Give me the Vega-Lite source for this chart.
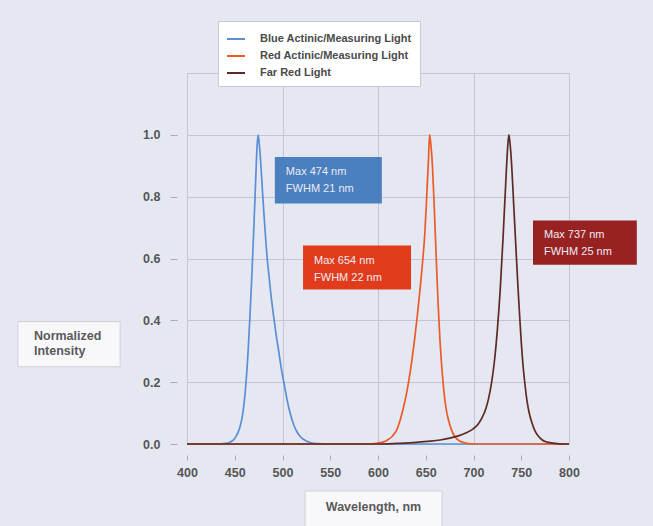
{
  "$schema": "https://vega.github.io/schema/vega-lite/v6.json",
  "width": 382,
  "height": 371,
  "autosize": "none",
  "padding": {"left": 187, "top": 73, "right": 84, "bottom": 82},
  "background": "#e6e8f1",
  "config": {
    "font": "Liberation Sans",
    "view": {"stroke": "#c4c5d2", "strokeWidth": 1}
  },
  "datasets": {
    "spectra": [
      {"series": "Blue Actinic/Measuring Light", "wl": 400, "value": 0},
      {"series": "Blue Actinic/Measuring Light", "wl": 430, "value": 0},
      {"series": "Blue Actinic/Measuring Light", "wl": 440, "value": 0.002},
      {"series": "Blue Actinic/Measuring Light", "wl": 445, "value": 0.006},
      {"series": "Blue Actinic/Measuring Light", "wl": 450, "value": 0.018},
      {"series": "Blue Actinic/Measuring Light", "wl": 455, "value": 0.05},
      {"series": "Blue Actinic/Measuring Light", "wl": 458, "value": 0.09},
      {"series": "Blue Actinic/Measuring Light", "wl": 461, "value": 0.17},
      {"series": "Blue Actinic/Measuring Light", "wl": 464, "value": 0.3},
      {"series": "Blue Actinic/Measuring Light", "wl": 466, "value": 0.42},
      {"series": "Blue Actinic/Measuring Light", "wl": 468, "value": 0.55},
      {"series": "Blue Actinic/Measuring Light", "wl": 470, "value": 0.7},
      {"series": "Blue Actinic/Measuring Light", "wl": 472, "value": 0.86},
      {"series": "Blue Actinic/Measuring Light", "wl": 473.5, "value": 0.97},
      {"series": "Blue Actinic/Measuring Light", "wl": 474.5, "value": 1.0},
      {"series": "Blue Actinic/Measuring Light", "wl": 476, "value": 0.96},
      {"series": "Blue Actinic/Measuring Light", "wl": 478, "value": 0.87},
      {"series": "Blue Actinic/Measuring Light", "wl": 480, "value": 0.77},
      {"series": "Blue Actinic/Measuring Light", "wl": 482, "value": 0.68},
      {"series": "Blue Actinic/Measuring Light", "wl": 484, "value": 0.6},
      {"series": "Blue Actinic/Measuring Light", "wl": 486, "value": 0.54},
      {"series": "Blue Actinic/Measuring Light", "wl": 488, "value": 0.48},
      {"series": "Blue Actinic/Measuring Light", "wl": 490, "value": 0.43},
      {"series": "Blue Actinic/Measuring Light", "wl": 493, "value": 0.36},
      {"series": "Blue Actinic/Measuring Light", "wl": 496, "value": 0.3},
      {"series": "Blue Actinic/Measuring Light", "wl": 499, "value": 0.24},
      {"series": "Blue Actinic/Measuring Light", "wl": 502, "value": 0.19},
      {"series": "Blue Actinic/Measuring Light", "wl": 505, "value": 0.14},
      {"series": "Blue Actinic/Measuring Light", "wl": 508, "value": 0.1},
      {"series": "Blue Actinic/Measuring Light", "wl": 512, "value": 0.06},
      {"series": "Blue Actinic/Measuring Light", "wl": 516, "value": 0.035},
      {"series": "Blue Actinic/Measuring Light", "wl": 520, "value": 0.02},
      {"series": "Blue Actinic/Measuring Light", "wl": 525, "value": 0.01},
      {"series": "Blue Actinic/Measuring Light", "wl": 530, "value": 0.004},
      {"series": "Blue Actinic/Measuring Light", "wl": 538, "value": 0.001},
      {"series": "Blue Actinic/Measuring Light", "wl": 545, "value": 0},
      {"series": "Blue Actinic/Measuring Light", "wl": 800, "value": 0},
      {"series": "Red Actinic/Measuring Light", "wl": 400, "value": 0},
      {"series": "Red Actinic/Measuring Light", "wl": 590, "value": 0},
      {"series": "Red Actinic/Measuring Light", "wl": 600, "value": 0.003},
      {"series": "Red Actinic/Measuring Light", "wl": 605, "value": 0.006},
      {"series": "Red Actinic/Measuring Light", "wl": 610, "value": 0.013},
      {"series": "Red Actinic/Measuring Light", "wl": 615, "value": 0.025},
      {"series": "Red Actinic/Measuring Light", "wl": 620, "value": 0.048},
      {"series": "Red Actinic/Measuring Light", "wl": 623, "value": 0.075},
      {"series": "Red Actinic/Measuring Light", "wl": 626, "value": 0.11},
      {"series": "Red Actinic/Measuring Light", "wl": 629, "value": 0.15},
      {"series": "Red Actinic/Measuring Light", "wl": 632, "value": 0.2},
      {"series": "Red Actinic/Measuring Light", "wl": 635, "value": 0.26},
      {"series": "Red Actinic/Measuring Light", "wl": 638, "value": 0.33},
      {"series": "Red Actinic/Measuring Light", "wl": 641, "value": 0.41},
      {"series": "Red Actinic/Measuring Light", "wl": 644, "value": 0.5},
      {"series": "Red Actinic/Measuring Light", "wl": 647, "value": 0.6},
      {"series": "Red Actinic/Measuring Light", "wl": 649, "value": 0.68},
      {"series": "Red Actinic/Measuring Light", "wl": 651, "value": 0.8},
      {"series": "Red Actinic/Measuring Light", "wl": 653, "value": 0.93},
      {"series": "Red Actinic/Measuring Light", "wl": 654, "value": 1.0},
      {"series": "Red Actinic/Measuring Light", "wl": 655, "value": 0.98},
      {"series": "Red Actinic/Measuring Light", "wl": 657, "value": 0.9},
      {"series": "Red Actinic/Measuring Light", "wl": 659, "value": 0.76},
      {"series": "Red Actinic/Measuring Light", "wl": 661, "value": 0.6},
      {"series": "Red Actinic/Measuring Light", "wl": 663, "value": 0.45},
      {"series": "Red Actinic/Measuring Light", "wl": 665, "value": 0.33},
      {"series": "Red Actinic/Measuring Light", "wl": 667, "value": 0.24},
      {"series": "Red Actinic/Measuring Light", "wl": 669, "value": 0.17},
      {"series": "Red Actinic/Measuring Light", "wl": 671, "value": 0.12},
      {"series": "Red Actinic/Measuring Light", "wl": 674, "value": 0.075},
      {"series": "Red Actinic/Measuring Light", "wl": 677, "value": 0.045},
      {"series": "Red Actinic/Measuring Light", "wl": 681, "value": 0.022},
      {"series": "Red Actinic/Measuring Light", "wl": 686, "value": 0.009},
      {"series": "Red Actinic/Measuring Light", "wl": 692, "value": 0.003},
      {"series": "Red Actinic/Measuring Light", "wl": 700, "value": 0},
      {"series": "Red Actinic/Measuring Light", "wl": 800, "value": 0},
      {"series": "Far Red Light", "wl": 400, "value": 0},
      {"series": "Far Red Light", "wl": 600, "value": 0},
      {"series": "Far Red Light", "wl": 620, "value": 0.002},
      {"series": "Far Red Light", "wl": 640, "value": 0.005},
      {"series": "Far Red Light", "wl": 655, "value": 0.009},
      {"series": "Far Red Light", "wl": 665, "value": 0.013},
      {"series": "Far Red Light", "wl": 675, "value": 0.019},
      {"series": "Far Red Light", "wl": 685, "value": 0.027},
      {"series": "Far Red Light", "wl": 693, "value": 0.037},
      {"series": "Far Red Light", "wl": 700, "value": 0.05},
      {"series": "Far Red Light", "wl": 705, "value": 0.065},
      {"series": "Far Red Light", "wl": 709, "value": 0.085},
      {"series": "Far Red Light", "wl": 713, "value": 0.115},
      {"series": "Far Red Light", "wl": 716, "value": 0.15},
      {"series": "Far Red Light", "wl": 719, "value": 0.2},
      {"series": "Far Red Light", "wl": 722, "value": 0.27},
      {"series": "Far Red Light", "wl": 725, "value": 0.37},
      {"series": "Far Red Light", "wl": 728, "value": 0.5},
      {"series": "Far Red Light", "wl": 731, "value": 0.67},
      {"series": "Far Red Light", "wl": 734, "value": 0.86},
      {"series": "Far Red Light", "wl": 736, "value": 0.97},
      {"series": "Far Red Light", "wl": 737, "value": 1.0},
      {"series": "Far Red Light", "wl": 738, "value": 0.98},
      {"series": "Far Red Light", "wl": 740, "value": 0.9},
      {"series": "Far Red Light", "wl": 742, "value": 0.78},
      {"series": "Far Red Light", "wl": 744, "value": 0.66},
      {"series": "Far Red Light", "wl": 746, "value": 0.54},
      {"series": "Far Red Light", "wl": 748, "value": 0.43},
      {"series": "Far Red Light", "wl": 750, "value": 0.33},
      {"series": "Far Red Light", "wl": 752, "value": 0.25},
      {"series": "Far Red Light", "wl": 754, "value": 0.19},
      {"series": "Far Red Light", "wl": 756, "value": 0.14},
      {"series": "Far Red Light", "wl": 758, "value": 0.105},
      {"series": "Far Red Light", "wl": 761, "value": 0.07},
      {"series": "Far Red Light", "wl": 764, "value": 0.045},
      {"series": "Far Red Light", "wl": 768, "value": 0.025},
      {"series": "Far Red Light", "wl": 772, "value": 0.013},
      {"series": "Far Red Light", "wl": 777, "value": 0.006},
      {"series": "Far Red Light", "wl": 785, "value": 0.002},
      {"series": "Far Red Light", "wl": 795, "value": 0},
      {"series": "Far Red Light", "wl": 800, "value": 0}
    ],
    "notes": [
      {"light": "blue", "peak": 474, "fwhm": 21, "left": 492, "right": 604, "top": 0.928, "bottom": 0.778},
      {"light": "red", "peak": 654, "fwhm": 22, "left": 521.5, "right": 634.6, "top": 0.642, "bottom": 0.5},
      {"light": "far red", "peak": 737, "fwhm": 25, "left": 762.3, "right": 871, "top": 0.723, "bottom": 0.58}
    ]
  },
  "layer": [
    {
      "data": {"name": "spectra"},
      "mark": {"type": "line", "strokeWidth": 1.7, "interpolate": "monotone"},
      "encoding": {
        "x": {
          "field": "wl",
          "type": "quantitative",
          "title": null,
          "scale": {"domain": [400, 800], "nice": false},
          "axis": {
            "values": [400, 450, 500, 550, 600, 650, 700, 750, 800],
            "domain": false,
            "offset": 11,
            "tickSize": 5,
            "tickColor": "#a9aab4",
            "labelPadding": 6,
            "labelFlush": false,
            "labelFontSize": 12.5,
            "labelFontWeight": "bold",
            "labelColor": "#555555",
            "gridColor": "#c4c5d2",
            "gridOpacity": {"condition": {"test": "datum.value % 100 !== 0", "value": 0}, "value": 1}
          }
        },
        "y": {
          "field": "value",
          "type": "quantitative",
          "title": null,
          "scale": {"domain": [0, 1.2], "nice": false},
          "axis": {
            "values": [0, 0.2, 0.4, 0.6, 0.8, 1.0],
            "format": ".1f",
            "domain": false,
            "offset": 10,
            "tickSize": 7,
            "tickColor": "#a9aab4",
            "labelPadding": 10,
            "labelFlush": false,
            "labelFontSize": 12.5,
            "labelFontWeight": "bold",
            "labelColor": "#555555",
            "gridColor": "#c4c5d2"
          }
        },
        "color": {
          "field": "series",
          "type": "nominal",
          "title": null,
          "scale": {
            "domain": ["Blue Actinic/Measuring Light", "Red Actinic/Measuring Light", "Far Red Light"],
            "range": ["#5b8ed6", "#ec5a2c", "#5e2a24"]
          },
          "legend": {
            "orient": "none",
            "legendX": 31,
            "legendY": -52,
            "fillColor": "#ffffff",
            "strokeColor": "#c9c9cf",
            "padding": 8,
            "symbolType": "stroke",
            "symbolSize": 324,
            "symbolStrokeWidth": 2,
            "labelFont": "Liberation Sans",
            "labelFontSize": 11,
            "labelFontWeight": "bold",
            "labelColor": "#4a4a4a",
            "labelOffset": 14,
            "rowPadding": 2,
            "labelLimit": 400
          }
        }
      }
    },
    {
      "data": {"name": "notes"},
      "mark": {"type": "rect"},
      "encoding": {
        "x": {"field": "left", "type": "quantitative", "title": null},
        "x2": {"field": "right"},
        "y": {"field": "top", "type": "quantitative", "title": null},
        "y2": {"field": "bottom"},
        "fill": {
          "field": "light",
          "type": "nominal",
          "legend": null,
          "scale": {
            "domain": ["blue", "red", "far red"],
            "range": ["#4a7fc0", "#e23b1c", "#982222"]
          }
        }
      }
    },
    {
      "data": {"name": "notes"},
      "transform": [
        {"calculate": "'Max ' + datum.peak + ' nm|FWHM ' + datum.fwhm + ' nm'", "as": "caption"}
      ],
      "mark": {
        "type": "text",
        "align": "left",
        "baseline": "top",
        "dx": 11,
        "dy": 9,
        "lineBreak": "|",
        "lineHeight": 17,
        "fontSize": 11,
        "color": "#ebebf2"
      },
      "encoding": {
        "x": {"field": "left", "type": "quantitative", "title": null},
        "y": {"field": "top", "type": "quantitative", "title": null},
        "text": {"field": "caption"}
      }
    },
    {
      "data": {"values": [{"caption": "Normalized|Intensity", "left": 223, "right": 330, "top": 0.396, "bottom": 0.25}]},
      "layer": [
        {
          "mark": {"type": "rect", "fill": "#f8f8fa", "stroke": "#cfd0d8"},
          "encoding": {
            "x": {"field": "left", "type": "quantitative", "title": null},
            "x2": {"field": "right"},
            "y": {"field": "top", "type": "quantitative", "title": null},
            "y2": {"field": "bottom"}
          }
        },
        {
          "mark": {
            "type": "text",
            "align": "left",
            "baseline": "top",
            "dx": 16,
            "dy": 8,
            "lineBreak": "|",
            "lineHeight": 15,
            "fontSize": 12.5,
            "fontWeight": "bold",
            "color": "#5a5a5a"
          },
          "encoding": {
            "x": {"field": "left", "type": "quantitative", "title": null},
            "y": {"field": "top", "type": "quantitative", "title": null},
            "text": {"field": "caption"}
          }
        }
      ]
    },
    {
      "data": {"values": [{"caption": "Wavelength, nm", "left": 523.6, "right": 667, "mid": 595.3, "top": -0.152, "bottom": -0.27, "centre": -0.204}]},
      "layer": [
        {
          "mark": {"type": "rect", "fill": "#f8f8fa", "stroke": "#cfd0d8"},
          "encoding": {
            "x": {"field": "left", "type": "quantitative", "title": null},
            "x2": {"field": "right"},
            "y": {"field": "top", "type": "quantitative", "title": null},
            "y2": {"field": "bottom"}
          }
        },
        {
          "mark": {
            "type": "text",
            "align": "center",
            "baseline": "middle",
            "fontSize": 12.5,
            "fontWeight": "bold",
            "color": "#5a5a5a"
          },
          "encoding": {
            "x": {"field": "mid", "type": "quantitative", "title": null},
            "y": {"field": "centre", "type": "quantitative", "title": null},
            "text": {"field": "caption"}
          }
        }
      ]
    }
  ]
}
